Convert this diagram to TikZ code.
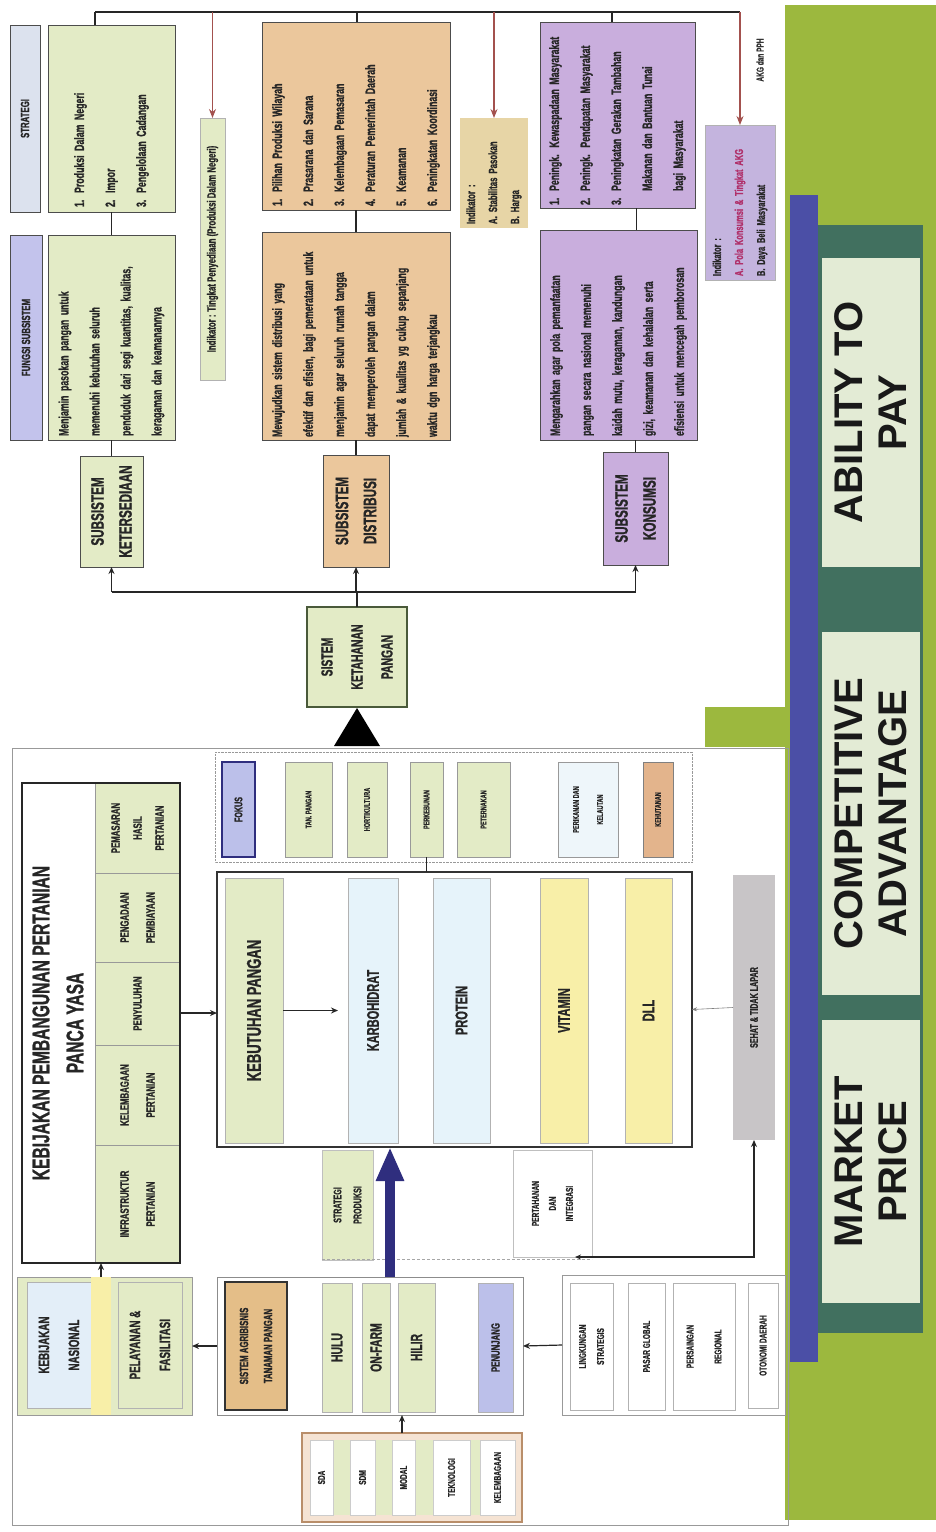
\documentclass[tikz,border=0pt]{standalone}
\usepackage{fontspec}
\setmainfont{Liberation Sans}
\newfontfamily\nar[FakeStretch=0.65,FakeBold=1]{Liberation Sans Bold}
\usetikzlibrary{calc,arrows.meta}
\definecolor{cLG}{HTML}{E3EBC6}
\definecolor{cO}{HTML}{EBC79C}
\definecolor{cO2}{HTML}{E4BE88}
\definecolor{cP}{HTML}{C9AEDD}
\definecolor{cPi}{HTML}{C4B4DE}
\definecolor{cHB}{HTML}{DCE2EE}
\definecolor{cHL}{HTML}{C3C3EC}
\definecolor{cLC}{HTML}{E6F3FA}
\definecolor{cLC2}{HTML}{EEF6FA}
\definecolor{cY}{HTML}{F8EFA8}
\definecolor{cRed}{HTML}{A3514E}
\definecolor{cG}{HTML}{9CB83E}
\definecolor{cB}{HTML}{4B4FA6}
\definecolor{cT}{HTML}{41705F}
\definecolor{cL}{HTML}{E3EBD5}
\definecolor{cTan}{HTML}{E7D5A6}
\definecolor{cNavy}{HTML}{2F2E7E}
\definecolor{cPeach}{HTML}{F5E3D3}
\definecolor{cBrown}{HTML}{B98E6A}
\definecolor{cGry}{HTML}{C8C5C7}
\definecolor{cLav}{HTML}{BCC0EA}
\definecolor{cKH}{HTML}{E3B48C}
\definecolor{cLB}{HTML}{E3EEF8}
\definecolor{cMag}{HTML}{B0306A}
\definecolor{cDG}{HTML}{4A5A3A}
\tikzset{
  cell/.style={draw=black!70, line width=0.9pt, inner sep=1pt, outer sep=0pt, align=center, text=black!85, font=\nar},
  fs/.style 2 args={font=\nar\fontsize{#1}{#2}\selectfont},
  lst/.style={align=left, font=\nar\fontsize{13.5}{31}\selectfont},
  bigtxt/.style={draw=none, fill=cL, text=black!90, font=\bfseries\fontsize{40}{44}\selectfont},
  ln/.style={line width=1.2pt, black!85},
  arr/.style={-{Stealth[length=7pt,width=6pt]}, line width=1.2pt, black!85},
  ra/.style={-{Stealth[length=9pt,width=7pt]}, line width=1.2pt, cRed},
  thinarr/.style={-{Stealth[length=5pt,width=4pt]}, line width=0.6pt, black!50},
  bluearr/.style={-{Triangle[length=34pt,width=26pt]}, line width=10pt, cNavy},
}
% #1 options, #2 name, #3 py1, #4 px1, #5 py2, #6 px2, #7 text
\newcommand\mybox[7][]{%
  \node[cell,#1,minimum width={(#5-#3)*1pt},minimum height={(#6-#4)*1pt}] (#2) at ({(#3+#5)/2},{(#4+#6)/2}) {#7};}
\begin{document}
\begin{tikzpicture}
\useasboundingbox (0,0) rectangle (936pt,-1532pt);
\fill[white] (0,0) rectangle (936pt,-1532pt);
\begin{scope}[x={(-1pt,0pt)},y={(0pt,-1pt)},rotate=90,transform shape]
% ---------- right strip ----------
\fill[cG] (5,785) rectangle (1520,936);
\fill[cB] (195,790) rectangle (1362,818);
\fill[cT] (225,818) rectangle (1333,923);
\fill[cG] (707,705) rectangle (747,790);
\mybox[bigtxt]{ab}{258}{822}{567}{920}{ABILITY TO\\PAY}
\mybox[bigtxt]{ca}{632}{822}{995}{920}{COMPETITIVE\\ADVANTAGE}
\mybox[bigtxt]{mp}{1020}{822}{1303}{920}{MARKET\\PRICE}
% ---------- upper region ----------
\mybox[fill=cHB,fs={12}{14}]{hs}{25}{10}{212}{40}{STRATEGI}
\mybox[fill=cLG,lst,text width=177pt]{sg}{25}{48}{212}{175}{1. Produksi Dalam Negeri\\2. Impor\\3. Pengelolaan Cadangan}
\mybox[fill=cHL,fs={12}{14}]{hf}{235}{10}{440}{42}{FUNGSI SUBSISTEM}
\mybox[fill=cLG,lst,text width=197pt]{fg}{235}{48}{440}{175}{Menjamin pasokan pangan untuk\\memenuhi kebutuhan seluruh\\penduduk dari segi kuantitas, kualitas,\\keragaman dan keamanannya}
\mybox[fill=cLG,fs={18}{28}]{sk}{456}{80}{567}{143}{SUBSISTEM\\KETERSEDIAAN}
\mybox[fill=cLG,draw=black!30,fs={12}{14}]{ig}{118}{200}{380}{225}{Indikator : Tingkat Penyediaan (Produksi Dalam Negeri)}
\mybox[fill=cO,lst,text width=180pt]{so}{22}{262}{210}{450}{1. Pilihan Produksi Wilayah\\2. Prasarana dan Sarana\\3. Kelembagaan Pemasaran\\4. Peraturan Pemerintah Daerah\\5. Keamanan\\6. Peningkatan Koordinasi}
\mybox[fill=cO,lst,text width=202pt]{fo}{232}{262}{440}{450}{Mewujudkan sistem distribusi yang\\efektif dan efisien, bagi pemerataan untuk\\menjamin agar seluruh rumah tangga\\dapat memperoleh pangan dalam\\jumlah \& kualitas yg cukup sepanjang\\waktu dgn harga terjangkau}
\mybox[fill=cO,fs={18}{28}]{sd}{455}{323}{567}{389}{SUBSISTEM\\DISTRIBUSI}
\mybox[fill=cTan,draw=none,align=left,text width=102pt,fs={12}{22}]{io}{118}{460}{228}{528}{Indikator :\\A. Stabilitas Pasokan\\B. Harga}
\mybox[fill=cP,lst,text width=180pt]{sp}{22}{540}{208}{695}{1. Peningk. Kewaspadaan Masyarakat\\2. Peningk. Pendapatan Masyarakat\\3. Peningkatan Gerakan Tambahan\\\hphantom{3. }Makanan dan Bantuan Tunai\\\hphantom{3. }bagi Masyarakat}
\mybox[fill=cP,lst,text width=202pt]{fp}{230}{540}{440}{697}{Mengarahkan agar pola pemanfaatan\\pangan secara nasional memenuhi\\kaidah mutu, keragaman, kandungan\\gizi, keamanan dan kehalalan serta\\efisiensi untuk mencegah pemborosan}
\mybox[fill=cP,fs={18}{28}]{sko}{452}{603}{565}{668}{SUBSISTEM\\KONSUMSI}
\mybox[fill=cPi,draw=black!30,align=left,text width=147pt,fs={11.5}{22}]{ip}{125}{705}{280}{775}{Indikator :\\{\color{cMag}A. Pola Konsumsi \& Tingkat AKG}\\B. Daya Beli Masyarakat}
\node[text=black!80,fs={10}{12}] (akg) at (60,760) {AKG dan PPH};
\mybox[fill=cLG,draw=cDG,line width=2.5pt,fs={16}{30}]{sys}{607}{307}{707}{407}{SISTEM\\KETAHANAN\\PANGAN}
\fill[black] (708,357) -- (746,334) -- (746,380) -- cycle;
% top connector line
\coordinate (t1) at (12,95);
\coordinate (t6) at (12,740);
\draw[ln] (t1) -- (t6);
\draw[ln] (t1) -- ($(sg.east)+(0,-16.5)$);
\draw[ra] (12,212.5) -- (ig.east);
\draw[ln] (12,357) -- ($(so.east)+(0,1)$);
\draw[ra] (12,494) -- (io.east);
\draw[ln] (12,612) -- ($(sp.east)+(0,-5.5)$);
\draw[ra] (t6) -- (ip.east);
% internal links
\draw[ln] (sg.west) -- (fg.east);
\draw[ln] (fg.west) -- (sk.east);
\draw[ln] (so.west) -- (fo.east);
\draw[ln] (fo.west) -- (sd.east);
\draw[ln] ($(sp.west)+(0,19)$) -- ($(fp.east)+(0,18)$);
\draw[ln] ($(fp.west)+(0,17)$) -- (sko.east);
% branch from sistem
\draw[ln] (sys.east) -- (592,357);
\draw[ln] (592,111.5) -- (592,635.5);
\draw[arr] (592,111.5) -- (sk.west);
\draw[arr] (592,356) -- (sd.west);
\draw[arr] (592,635.5) -- (sko.west);
% ---------- lower panel ----------
\draw[black!40, line width=0.8pt] (748,12) rectangle (1525,788);
\mybox[fill=white,line width=1.2pt]{kpp}{783}{22}{1263}{180}{}
\node[align=center,text=black!85,fs={24}{34}] (kpt) at (1023,58) {KEBIJAKAN PEMBANGUNAN PERTANIAN\\PANCA YASA};
\mybox[fill=cLG,draw=black!40,fs={12}{22}]{c1}{783}{95}{873}{180}{PEMASARAN\\HASIL\\PERTANIAN}
\mybox[fill=cLG,draw=black!40,fs={12}{26}]{c2}{873}{95}{962}{180}{PENGADAAN\\PEMBIAYAAN}
\mybox[fill=cLG,draw=black!40,fs={12}{26}]{c3}{962}{95}{1045}{180}{PENYULUHAN}
\mybox[fill=cLG,draw=black!40,fs={12}{26}]{c4}{1045}{95}{1145}{180}{KELEMBAGAAN\\PERTANIAN}
\mybox[fill=cLG,draw=black!40,fs={12}{26}]{c5}{1145}{95}{1263}{180}{INFRASTRUKTUR\\PERTANIAN}
\draw[black!85, line width=1.2pt] (783,22) rectangle (1263,180);
% kebijakan nasional
\mybox[fill=cLG,draw=black!40]{kn}{1277}{17}{1415}{192}{}
\mybox[fill=cLB,draw=black!30,fs={15}{30}]{kn1}{1282}{27}{1408}{91}{KEBIJAKAN\\NASIONAL}
\mybox[fill=cY,draw=none]{yel}{1277}{91}{1415}{111}{}
\mybox[fill=cLG,draw=black!30,fs={15}{30}]{kn2}{1282}{118}{1408}{182}{PELAYANAN \&\\FASILITASI}
\draw[arr] (yel.east) -- (kpp.west);
% agribisnis
\mybox[fill=white,draw=black!45]{agr}{1277}{217}{1415}{523}{}
\mybox[fill=cO2,draw=black!80,line width=1.5pt,fs={12}{24}]{sat}{1282}{225}{1410}{287}{SISTEM AGRIBISNIS\\TANAMAN PANGAN}
\mybox[fill=cLG,draw=black!30,fs={16}{20}]{hulu}{1283}{322}{1412}{352}{HULU}
\mybox[fill=cLG,draw=black!30,fs={16}{20}]{onf}{1283}{362}{1412}{390}{ON-FARM}
\mybox[fill=cLG,draw=black!30,fs={16}{20}]{hil}{1283}{398}{1412}{435}{HILIR}
\mybox[fill=cLav,draw=black!30,fs={12}{14}]{pen}{1283}{478}{1412}{513}{PENUNJANG}
\draw[arr] (agr.north) -- (kn.south);
% strategi produksi, pertahanan
\mybox[fill=cLG,draw=black!25,fs={11}{20}]{spr}{1150}{322}{1260}{373}{STRATEGI\\PRODUKSI}
\mybox[fill=white,draw=black!25,fs={10}{17}]{pdi}{1150}{513}{1257}{592}{PERTAHANAN\\DAN\\INTEGRASI}
\draw[black!35, densely dashed] (1259,322) -- (1259,592);
% environment
\mybox[fill=white,draw=black!40]{env}{1275}{562}{1415}{785}{}
\mybox[fill=white,draw=black!30,fs={10}{18}]{ls}{1283}{570}{1410}{613}{LINGKUNGAN\\STRATEGIS}
\mybox[fill=white,draw=black!30,fs={10}{18}]{pg}{1283}{628}{1410}{665}{PASAR GLOBAL}
\mybox[fill=white,draw=black!30,fs={10}{28}]{pr}{1283}{673}{1410}{735}{PERSAINGAN\\REGIONAL}
\mybox[fill=white,draw=black!30,fs={10}{18}]{od}{1283}{748}{1408}{778}{OTONOMI DAERAH}
\draw[arr] (env.north) -- (agr.south);
% inputs
\mybox[fill=cPeach,draw=cBrown,line width=1.2pt]{inp}{1433}{302}{1522}{522}{}
\fill[cLG] (1440,333) rectangle (1515,350);
\fill[cLG] (1440,375) rectangle (1515,392);
\fill[cLG] (1440,415) rectangle (1515,433);
\fill[cLG] (1440,470) rectangle (1515,480);
\mybox[fill=white,draw=black!20,fs={10}{12}]{sda}{1440}{310}{1515}{333}{SDA}
\mybox[fill=white,draw=black!20,fs={10}{12}]{sdm}{1440}{350}{1515}{375}{SDM}
\mybox[fill=white,draw=black!20,fs={10}{12}]{mod}{1440}{392}{1515}{415}{MODAL}
\mybox[fill=white,draw=black!20,fs={10}{12}]{tek}{1440}{433}{1515}{470}{TEKNOLOGI}
\mybox[fill=white,draw=black!20,fs={10}{12}]{kel}{1440}{480}{1515}{515}{KELEMBAGAAN}
\draw[arr] ($(inp.east)+(0,-10)$) -- ($(agr.west)+(0,32)$);
% table
\mybox[fill=white,draw=black!80,line width=1.4pt]{tbl}{872}{217}{1147}{692}{}
\mybox[fill=cLG,draw=black!30,fs={20}{24}]{kbp}{878}{225}{1143}{283}{KEBUTUHAN PANGAN}
\mybox[fill=cLC,draw=black!30,fs={17}{20}]{kar}{878}{348}{1143}{398}{KARBOHIDRAT}
\mybox[fill=cLC,draw=black!30,fs={17}{20}]{pro}{878}{433}{1143}{490}{PROTEIN}
\mybox[fill=cY,draw=black!30,fs={17}{20}]{vit}{878}{540}{1143}{588}{VITAMIN}
\mybox[fill=cY,draw=black!30,fs={17}{20}]{dll}{878}{625}{1143}{672}{DLL}
\draw[arr, shorten >=10pt] (kbp.south) -- (kar.north);
\draw[arr, line width=1.5pt] ($(kpp.south)+(-10,0)$) -- ($(tbl.north)+(3.5,0)$);
\draw[cNavy, bluearr] ($(agr.east)+(0,20)$) -- ($(tbl.west)+(0,-64.5)$);
% fokus row
\draw[black!40, densely dotted] (752,215) rectangle (862,692);
\mybox[fill=cLav,draw=cNavy,line width=1.2pt,fs={11}{13}]{fok}{762}{222}{857}{255}{FOKUS}
\mybox[fill=cLG,draw=black!40,fs={8.5}{10}]{tp}{762}{285}{857}{332}{TAN. PANGAN}
\mybox[fill=cLG,draw=black!40,fs={8.5}{10}]{hor}{762}{347}{857}{387}{HORTIKULTURA}
\mybox[fill=cLG,draw=black!40,fs={8.5}{10}]{pkb}{762}{410}{857}{443}{PERKEBUNAN}
\mybox[fill=cLG,draw=black!40,fs={8.5}{10}]{ptr}{762}{457}{857}{510}{PETERNAKAN}
\mybox[fill=cLC2,draw=black!40,fs={8.5}{24}]{pkl}{762}{558}{857}{618}{PERIKANAN DAN\\KELAUTAN}
\mybox[fill=cKH,draw=black!50,fs={8.5}{10}]{keh}{762}{643}{857}{673}{KEHUTANAN}
\draw[ln, line width=1.8pt] (pkb.west) -- ++(15,0);
% sehat
\mybox[fill=cGry,draw=none,fs={11}{13}]{seh}{875}{733}{1140}{775}{SEHAT \& TIDAK LAPAR}
\draw[thinarr] (seh.north) -- (tbl.south);
\draw[{Stealth[length=6pt,width=5pt]}-{Stealth[length=7pt,width=6pt]}, line width=1.2pt, black!85] (1257,575) -- (1257,754) -- (seh.west);
\end{scope}
\end{tikzpicture}
\end{document}
